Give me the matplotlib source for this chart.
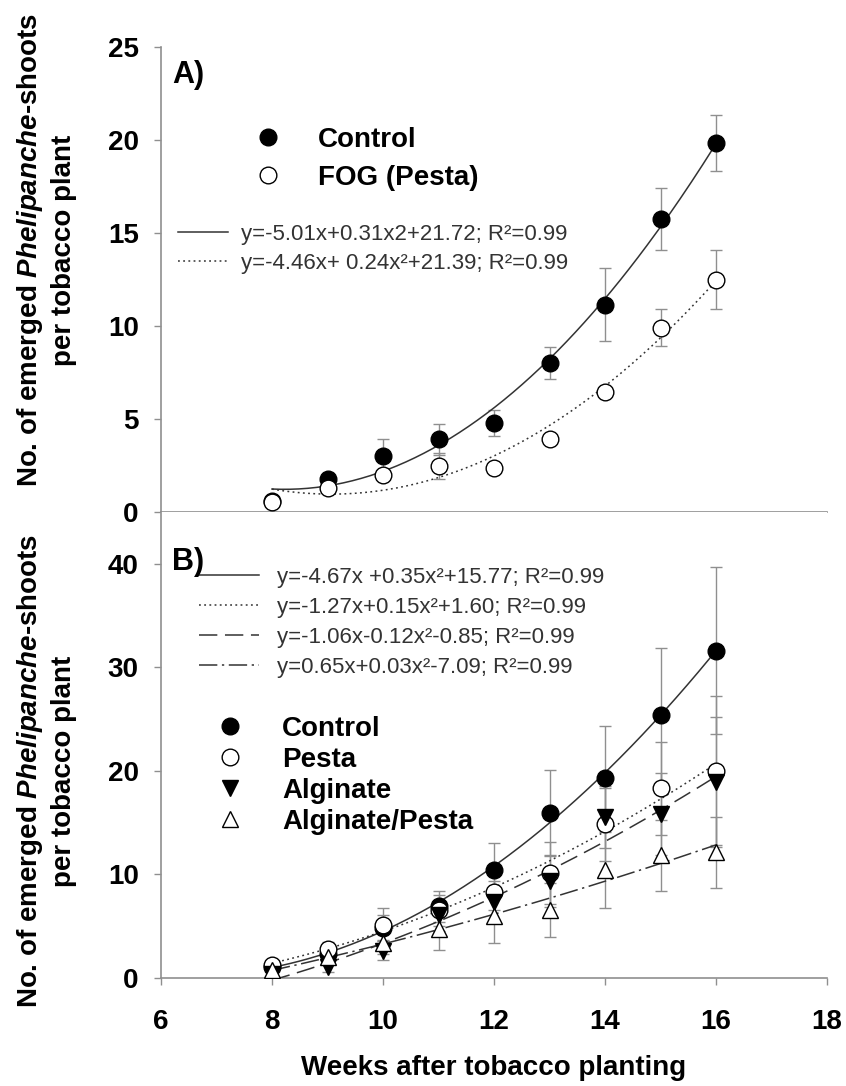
import numpy as np
import matplotlib
matplotlib.use("Agg")
import matplotlib.pyplot as plt

plt.rcParams['font.family'] = ['Liberation Sans', 'DejaVu Sans']
plt.rcParams['mathtext.fontset'] = 'custom'
plt.rcParams['mathtext.rm'] = 'Liberation Sans:bold'
plt.rcParams['mathtext.it'] = 'Liberation Sans:italic:bold'
plt.rcParams['mathtext.bf'] = 'Liberation Sans:bold'

# ---------------- data ----------------
weeks = [8, 9, 10, 11, 12, 13, 14, 15, 16]

# Panel A
control_A = [0.6, 1.8, 3.0, 3.9, 4.8, 8.0, 11.15, 15.75, 19.85]
control_A_err = [0.1, 0.3, 0.9, 0.85, 0.7, 0.85, 1.95, 1.65, 1.5]
fog_A = [0.55, 1.3, 2.0, 2.45, 2.35, 3.95, 6.45, 9.9, 12.5]
fog_A_err = [0.15, 0.2, 0.25, 0.7, 0.2, 0.2, 0.25, 1.0, 1.6]
labels_A = ["Control", "FOG (Pesta)"]
equations_A = ["y=-5.01x+0.31x2+21.72; R\u00b2=0.99",
               "y=-4.46x+ 0.24x\u00b2+21.39; R\u00b2=0.99"]

# Panel B
control_B = [1.0, 2.3, 4.8, 6.9, 10.4, 15.9, 19.3, 25.4, 31.6]
control_B_err = [0.3, 0.6, 1.2, 1.5, 2.6, 4.2, 5.0, 6.5, 8.1]
pesta_B = [1.2, 2.8, 5.1, 6.5, 8.3, 10.1, 14.8, 18.3, 20.0]
pesta_B_err = [0.3, 0.6, 1.6, 1.5, 1.8, 3.0, 3.5, 4.5, 7.2]
alginate_B = [0.3, 1.05, 2.6, 6.0, 7.3, 9.3, 15.5, 15.8, 18.9]
alginate_B_err = [0.4, 0.5, 0.9, 1.5, 2.0, 2.5, 3.0, 4.0, 6.3]
algpesta_B = [0.7, 2.0, 3.3, 4.7, 5.9, 6.5, 10.4, 11.8, 12.1]
algpesta_B_err = [0.3, 0.6, 1.0, 2.0, 2.6, 2.6, 3.7, 3.4, 3.4]
labels_B = ["Control", "Pesta", "Alginate", "Alginate/Pesta"]
equations_B = ["y=-4.67x +0.35x\u00b2+15.77; R\u00b2=0.99",
               "y=-1.27x+0.15x\u00b2+1.60; R\u00b2=0.99",
               "y=-1.06x-0.12x\u00b2-0.85; R\u00b2=0.99",
               "y=0.65x+0.03x\u00b2-7.09; R\u00b2=0.99"]

x_ticks = [6, 8, 10, 12, 14, 16, 18]
yticks_A = [0, 5, 10, 15, 20, 25]
yticks_B = [0, 10, 20, 30, 40]

# ---------------- figure ----------------
W, H = 846, 1086
fig = plt.figure(figsize=(W / 100, H / 100), dpi=100)

def fx(px):
    return px / W

def fy(py):
    return 1 - py / H

left, right = 161, 827
axA = fig.add_axes([fx(left), fy(512), fx(right) - fx(left), fy(47) - fy(512)])
axB = fig.add_axes([fx(left), fy(977.5), fx(right) - fx(left), fy(512) - fy(977.5)])

GRAY = '#8f8f8f'
LINE = '#333333'
TICKFS = 20
MS = 12

for ax in (axA, axB):
    for s in ('top', 'right'):
        ax.spines[s].set_visible(False)
    for s in ('left', 'bottom'):
        ax.spines[s].set_color(GRAY)
        ax.spines[s].set_linewidth(1.2)
    ax.set_xlim(6, 18)
    ax.tick_params(direction='out', length=5, width=1, color=GRAY,
                   labelsize=TICKFS, pad=11)

axA.set_ylim(0, 25)
axA.set_yticks(yticks_A)
axA.set_xticks(x_ticks)
axA.tick_params(axis='x', bottom=False, labelbottom=False)

axB.set_ylim(0, 45)
axB.set_yticks(yticks_B)
axB.set_xticks(x_ticks)
axB.tick_params(axis='x', pad=18)
for ax in (axA, axB):
    for lab in ax.get_yticklabels() + ax.get_xticklabels():
        lab.set_fontweight('bold')

xs = np.linspace(min(weeks), max(weeks), 200)


def series(ax, vals, err, marker, mfc, ls):
    ax.errorbar(weeks, vals, yerr=err, fmt='none', ecolor=GRAY, elinewidth=1,
                capsize=4, capthick=1, zorder=2)
    coef = np.polyfit(weeks, vals, 2)
    curve, = ax.plot(xs, np.polyval(coef, xs), linestyle=ls, color=LINE,
                     lw=1.1, zorder=3)
    pts, = ax.plot(weeks, vals, linestyle='none', marker=marker, ms=MS,
                   mfc=mfc, mec='black', mew=1.0, zorder=4)
    return curve, pts


DOT = (0, (1.2, 2.2))
DASH = (0, (12, 5))
DASHDOT = (0, (12, 3, 1.5, 3))

cA1, pA1 = series(axA, control_A, control_A_err, 'o', 'black', '-')
cA2, pA2 = series(axA, fog_A, fog_A_err, 'o', 'white', DOT)

cB1, pB1 = series(axB, control_B, control_B_err, 'o', 'black', '-')
cB2, pB2 = series(axB, pesta_B, pesta_B_err, 'o', 'white', DOT)
cB3, pB3 = series(axB, alginate_B, alginate_B_err, 'v', 'black', DASH)
cB4, pB4 = series(axB, algpesta_B, algpesta_B_err, '^', 'white', DASHDOT)

# ---------------- legends ----------------
bold_prop = {'size': 20, 'weight': 'bold'}
eq_prop = {'size': 16}

legA1 = axA.legend([pA1, pA2], labels_A, loc='upper left',
                   bbox_to_anchor=(fx(254), fy(127)),
                   bbox_transform=fig.transFigure, frameon=False,
                   prop=bold_prop, handlelength=1.0, handletextpad=1.3,
                   labelspacing=0.43, borderpad=0, borderaxespad=0)
axA.add_artist(legA1)
legA2 = axA.legend([cA1, cA2], equations_A, loc='upper left',
                   bbox_to_anchor=(fx(178), fy(224)),
                   bbox_transform=fig.transFigure, frameon=False,
                   prop=eq_prop, labelcolor=LINE, handlelength=2.25,
                   handletextpad=0.6, labelspacing=0.37, borderpad=0,
                   borderaxespad=0)

legB1 = axB.legend([cB1, cB2, cB3, cB4], equations_B, loc='upper left',
                   bbox_to_anchor=(fx(199), fy(567)),
                   bbox_transform=fig.transFigure, frameon=False,
                   prop=eq_prop, labelcolor=LINE, handlelength=2.7,
                   handletextpad=0.8, labelspacing=0.4, borderpad=0,
                   borderaxespad=0)
axB.add_artist(legB1)
legB2 = axB.legend([pB1, pB2, pB3, pB4], labels_B, loc='upper left',
                   bbox_to_anchor=(fx(216), fy(716)),
                   bbox_transform=fig.transFigure, frameon=False,
                   prop=bold_prop, handlelength=1.0, handletextpad=1.37,
                   labelspacing=0.18, borderpad=0, borderaxespad=0)

# ---------------- texts ----------------
fig.text(fx(172), fy(75), "A)", fontsize=22, fontweight='bold',
         ha='left', va='center')
fig.text(fx(172), fy(562), "B)", fontsize=22, fontweight='bold',
         ha='left', va='center')

ylab = "No. of emerged $\\mathit{Phelipanche}$-shoots\nper tobacco plant"
fig.text(fx(46), fy(250), ylab, rotation=90, fontsize=20, fontweight='bold',
         ha='center', va='center', multialignment='center', linespacing=1.3)
fig.text(fx(46), fy(771), ylab, rotation=90, fontsize=20, fontweight='bold',
         ha='center', va='center', multialignment='center', linespacing=1.3)

fig.text(fx(494), fy(1068), "Weeks after tobacco planting", fontsize=20,
         fontweight='bold', ha='center', va='center')

fig.savefig("out.png", dpi=100)
